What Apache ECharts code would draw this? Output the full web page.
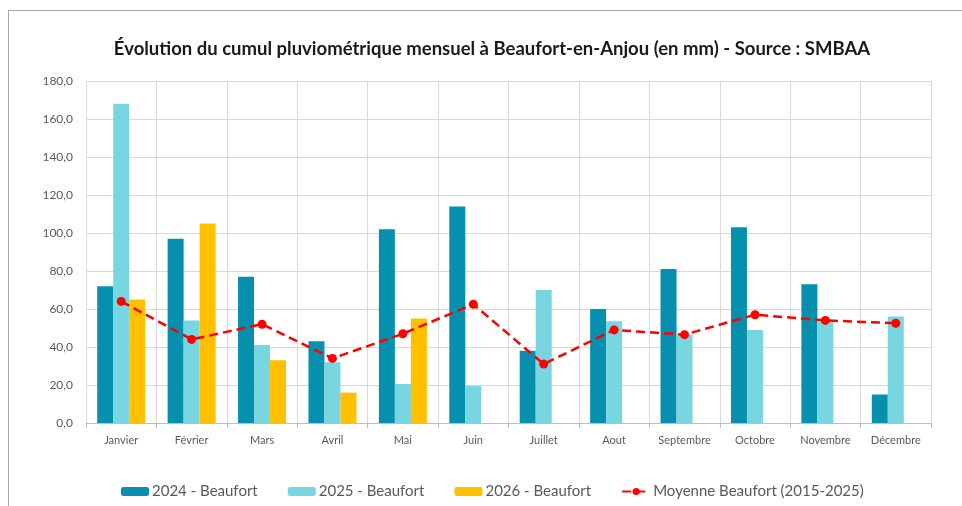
<!DOCTYPE html>
<html>
<head>
<meta charset="utf-8">
<script src="https://cdn.jsdelivr.net/npm/echarts@6/dist/echarts.min.js"></script>
<style>
html,body{margin:0;padding:0;background:#fff;}
#c{width:962px;height:506px;}
</style>
</head>
<body>
<div id="c"></div>
<script>
const months = ['Janvier','Février','Mars','Avril','Mai','Juin','Juillet','Aout','Septembre','Octobre','Novembre','Décembre'];
const beaufort2024 = [72, 97, 77, 43, 102, 114, 38, 60, 81, 103, 73, 15];
const beaufort2025 = [168, 54, 41, 32, 20.5, 19.5, 70, 53.5, 46.5, 49, 53.5, 56];
const beaufort2026 = [65, 105, 33, 16, 55, null, null, null, null, null, null, null];
const moyenne = [64, 44, 52, 34, 47, 62.5, 31, 49, 46.5, 57, 54, 52.5];

const FONT = 'Lato';
const chart = echarts.init(document.getElementById('c'), null, {renderer:'canvas'});
chart.setOption({
  animation: false,
  backgroundColor: '#ffffff',
  textStyle: {fontFamily: FONT},
  title: {
    text: 'Évolution du cumul pluviométrique mensuel à Beaufort-en-Anjou (en mm) - Source : SMBAA',
    left: 487, textAlign: 'center', top: 35,
    textStyle: {fontFamily: FONT, fontSize: 18.5, fontWeight: 'bold', color: '#1a1a1a'}
  },
  graphic: [
    {type:'line', shape:{x1:8, y1:10.5, x2:962, y2:10.5}, style:{stroke:'#a6a6a6', lineWidth:1}},
    {type:'line', shape:{x1:8.5, y1:10, x2:8.5, y2:506}, style:{stroke:'#a6a6a6', lineWidth:1}}
  ],
  legend: {
    bottom: 2, left: 116,
    itemWidth: 28, itemHeight: 9, itemGap: 30,
    textStyle: {fontFamily: FONT, fontSize: 15, color: '#595959', padding:[0,0,0,-2]},
    data: ['2024 - Beaufort','2025 - Beaufort','2026 - Beaufort','Moyenne Beaufort (2015-2025)']
  },
  grid: {left: 86, right: 31, top: 81, bottom: 83, containLabel: false},
  xAxis: {
    type: 'category', data: months, boundaryGap: true,
    axisLine: {show: true, lineStyle: {color: '#bfbfbf'}},
    axisTick: {show: true, length: 5, lineStyle: {color: '#bfbfbf'}},
    axisLabel: {fontFamily: FONT, fontSize: 11, color: '#595959', margin: 12},
    splitLine: {show: true, lineStyle: {color: '#d9d9d9'}}
  },
  yAxis: {
    type: 'value', min: 0, max: 180, interval: 20,
    axisLine: {show: false},
    axisTick: {show: false},
    axisLabel: {fontFamily: FONT, fontSize: 12, color: '#595959', margin: 13,
      formatter: v => v.toFixed(1).replace('.', ',')},
    splitLine: {show: true, lineStyle: {color: '#d9d9d9'}}
  },
  series: [
    {name:'2024 - Beaufort', type:'bar', data: beaufort2024, barWidth: 16, barGap: '0%',
      itemStyle:{color:'#0790AE'}},
    {name:'2025 - Beaufort', type:'bar', data: beaufort2025, barWidth: 16, barGap: '0%',
      itemStyle:{color:'#78D6E0'}},
    {name:'2026 - Beaufort', type:'bar', data: beaufort2026, barWidth: 16, barGap: '0%',
      itemStyle:{color:'#FFC000'}},
    {name:'Moyenne Beaufort (2015-2025)', type:'line', data: moyenne,
      symbol:'circle', symbolSize: 9, z: 5,
      lineStyle:{color:'#FF0000', width: 2.5, type:[9,5]},
      itemStyle:{color:'#FF0000'}}
  ]
});
</script>
</body>
</html>
